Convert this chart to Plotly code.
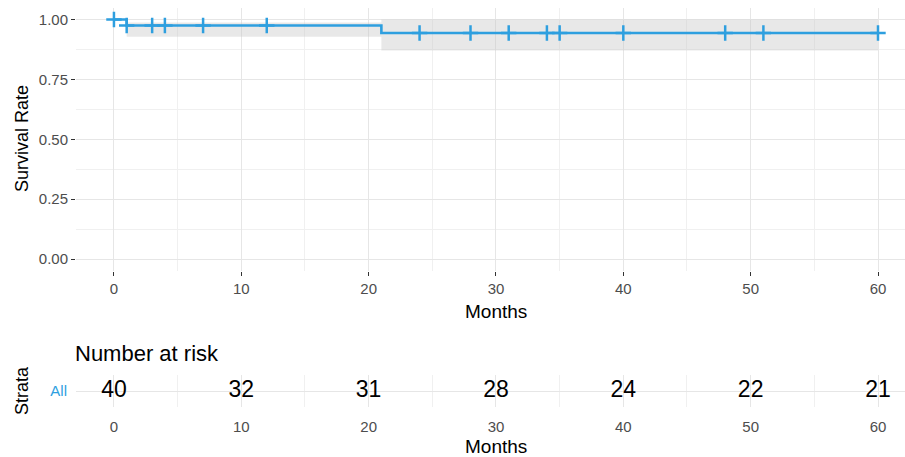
import plotly.graph_objects as go

# Kaplan-Meier estimate (step function) with 95% confidence band
step_months = [0, 1, 21, 60]
survival = [1.0, 0.975, 0.9435, 0.9435]
ci_lower = [1.0, 0.928, 0.870, 0.870]
ci_upper = [1.0, 0.987, 1.0, 1.0]

# Censoring times (months)
censor_months = [0, 1, 3, 4, 7, 12, 24, 28, 31, 34, 35, 40, 48, 51, 60]

# Number-at-risk table
risk_months = [0, 10, 20, 30, 40, 50, 60]
n_at_risk = [40, 32, 31, 28, 24, 22, 21]
strata_label = "All"

BLUE = "#2E9FDF"
FONT = "Liberation Sans, Arial, sans-serif"
W, H = 905, 457


def surv_at(t):
    s = survival[0]
    for tm, sv in zip(step_months, survival):
        if tm <= t:
            s = sv
    return s


censor_surv = [surv_at(t) for t in censor_months]

fig = go.Figure()

# confidence band
fig.add_trace(go.Scatter(x=step_months, y=ci_lower, mode="lines", line=dict(width=0, shape="hv"),
                         hoverinfo="skip", showlegend=False, xaxis="x", yaxis="y"))
fig.add_trace(go.Scatter(x=step_months, y=ci_upper, mode="lines", line=dict(width=0, shape="hv"),
                         fill="tonexty", fillcolor="rgba(200,200,200,0.42)",
                         hoverinfo="skip", showlegend=False, xaxis="x", yaxis="y"))
# survival curve
fig.add_trace(go.Scatter(x=step_months, y=survival, mode="lines",
                         line=dict(color=BLUE, width=2.6, shape="hv"),
                         showlegend=False, xaxis="x", yaxis="y"))
# censor marks
fig.add_trace(go.Scatter(x=censor_months, y=censor_surv, mode="markers",
                         marker=dict(symbol="cross-thin", size=11, line=dict(color=BLUE, width=2.5)),
                         showlegend=False, xaxis="x", yaxis="y"))

# risk table numbers
fig.add_trace(go.Scatter(x=risk_months, y=[1] * len(risk_months), mode="text",
                         text=[str(n) for n in n_at_risk],
                         textfont=dict(family=FONT, size=23, color="black"),
                         textposition="middle center", showlegend=False,
                         xaxis="x2", yaxis="y2"))

xr = [-2.98, 62.12]
x_dom = [76 / W, 1.0]
grid_major = "#e6e6e6"
grid_minor = "#f0f0f0"

common_x = dict(range=xr, domain=x_dom, tickvals=[0, 10, 20, 30, 40, 50, 60],
                showgrid=True, gridcolor=grid_major, gridwidth=1.1,
                minor=dict(dtick=5, tick0=5, showgrid=True, gridcolor=grid_minor, gridwidth=0.8),
                zeroline=False, showline=False,
                tickfont=dict(family=FONT, size=15, color="#4d4d4d"), fixedrange=True)

fig.update_layout(
    width=W, height=H,
    margin=dict(l=0, r=0, t=0, b=0),
    paper_bgcolor="white", plot_bgcolor="white",
    xaxis=dict(common_x, anchor="y", ticks="outside", ticklen=4, tickwidth=1.2, tickcolor="#333333"),
    yaxis=dict(domain=[(H - 271) / H, (H - 7.5) / H], range=[-0.05, 1.05],
               tickvals=[0, 0.25, 0.5, 0.75, 1.0], ticktext=["0.00", "0.25", "0.50", "0.75", "1.00"],
               showgrid=True, gridcolor=grid_major, gridwidth=1.1,
               minor=dict(dtick=0.25, tick0=0.125, showgrid=True, gridcolor=grid_minor, gridwidth=0.8),
               zeroline=False, showline=False, ticks="outside", ticklen=4, tickwidth=1.2,
               tickcolor="#333333", tickfont=dict(family=FONT, size=15, color="#4d4d4d"),
               anchor="x", fixedrange=True),
    xaxis2=dict(common_x, anchor="y2", ticks="outside", ticklen=6, tickcolor="rgba(0,0,0,0)"),
    yaxis2=dict(domain=[(H - 407) / H, (H - 375) / H], range=[0.4, 1.6],
                tickvals=[1], ticktext=[strata_label],
                showgrid=True, gridcolor=grid_major, gridwidth=1.1,
                zeroline=False, showline=False, ticks="outside", ticklen=5, tickcolor="rgba(0,0,0,0)",
                tickfont=dict(family=FONT, size=15, color=BLUE), anchor="x2", fixedrange=True),
    annotations=[
        dict(text="Survival Rate", x=22 / W, y=(H - 139) / H, xref="paper", yref="paper",
             textangle=-90, showarrow=False, font=dict(family=FONT, size=18, color="black"),
             xanchor="center", yanchor="middle"),
        dict(text="Months", x=496 / W, y=(H - 311) / H, xref="paper", yref="paper",
             showarrow=False, font=dict(family=FONT, size=19, color="black"),
             xanchor="center", yanchor="middle"),
        dict(text="Number at risk", x=73 / W, y=(H - 353) / H, xref="paper", yref="paper",
             showarrow=False, font=dict(family=FONT, size=22, color="black"),
             xanchor="left", yanchor="middle"),
        dict(text="Strata", x=22 / W, y=(H - 391) / H, xref="paper", yref="paper",
             textangle=-90, showarrow=False, font=dict(family=FONT, size=18, color="black"),
             xanchor="center", yanchor="middle"),
        dict(text="Months", x=496 / W, y=(H - 446) / H, xref="paper", yref="paper",
             showarrow=False, font=dict(family=FONT, size=19, color="black"),
             xanchor="center", yanchor="middle"),
    ],
)

fig.write_html("out.html")
